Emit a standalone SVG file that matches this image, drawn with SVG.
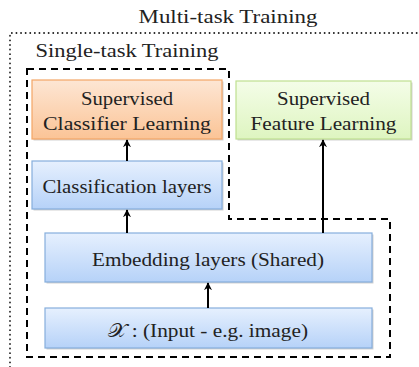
<svg xmlns="http://www.w3.org/2000/svg" width="419" height="367" viewBox="0 0 419 367" font-family="'Liberation Serif', 'DejaVu Serif', serif">
<defs>
<linearGradient id="gBlue" x1="0" y1="0" x2="0" y2="1"><stop offset="0" stop-color="#e6f0fe"/><stop offset="1" stop-color="#b6d2f8"/></linearGradient>
<linearGradient id="gOrange" x1="0" y1="0" x2="0" y2="1"><stop offset="0" stop-color="#fde6d4"/><stop offset="1" stop-color="#fbc496"/></linearGradient>
<linearGradient id="gGreen" x1="0" y1="0" x2="0" y2="1"><stop offset="0" stop-color="#f4fde8"/><stop offset="1" stop-color="#def5c0"/></linearGradient>
<marker id="arr" viewBox="0 0 10 10" refX="9" refY="5" markerWidth="4" markerHeight="4" orient="auto" markerUnits="strokeWidth">
<path d="M0,0 L10,5 L0,10 L3,5 Z" fill="#000"/>
</marker>
</defs>
<style>
text{fill:#222;font-size:18.5px}
.shadow{fill:#000;opacity:0.18}
.blue{fill:url(#gBlue);stroke:#86aedc;stroke-width:1.2}
.orange{fill:url(#gOrange);stroke:#f4a666;stroke-width:1.2}
.green{fill:url(#gGreen);stroke:#bfe090;stroke-width:1.2}
.conn{stroke:#000;stroke-width:2;fill:none;marker-end:url(#arr)}
</style>
<rect width="419" height="367" fill="#fff"/>
<g id="multi-task">
<path d="M10,367 L10,33 L419,33" fill="none" stroke="#222" stroke-width="1.8" stroke-dasharray="0.1 4.5" stroke-linecap="round"/>
<text x="228" y="23" text-anchor="middle" textLength="179" lengthAdjust="spacingAndGlyphs" font-size="19">Multi-task Training</text>
</g>
<g id="single-task">
<path d="M27,69 L229,69 L229,219 L390,219 L390,357 L27,357 Z" fill="none" stroke="#000" stroke-width="2" stroke-dasharray="7 5"/>
<text x="127" y="57" text-anchor="middle" textLength="183" lengthAdjust="spacingAndGlyphs" font-size="19">Single-task Training</text>
</g>
<g id="classifier-learning">
<rect class="shadow" x="33.5" y="81.5" width="190" height="59"/>
<rect class="orange" x="32" y="80" width="190" height="59"/>
<text x="127" y="105" text-anchor="middle" textLength="92" lengthAdjust="spacingAndGlyphs">Supervised</text>
<text x="127" y="130" text-anchor="middle" textLength="168" lengthAdjust="spacingAndGlyphs">Classifier Learning</text>
</g>
<g id="feature-learning">
<rect class="shadow" x="237.5" y="82.5" width="175" height="58"/>
<rect class="green" x="236" y="81" width="175" height="58"/>
<text x="323.5" y="105" text-anchor="middle" textLength="93" lengthAdjust="spacingAndGlyphs">Supervised</text>
<text x="323.5" y="130" text-anchor="middle" textLength="146" lengthAdjust="spacingAndGlyphs">Feature Learning</text>
</g>
<g id="classification-layers">
<rect class="shadow" x="33.5" y="162.5" width="190" height="48"/>
<rect class="blue" x="32" y="161" width="190" height="48"/>
<text x="127" y="193" text-anchor="middle" textLength="169" lengthAdjust="spacingAndGlyphs">Classification layers</text>
</g>
<g id="embedding-layers">
<rect class="shadow" x="46.5" y="234.5" width="327" height="49"/>
<rect class="blue" x="45" y="233" width="327" height="49"/>
<text x="208" y="266" text-anchor="middle" textLength="232" lengthAdjust="spacingAndGlyphs">Embedding layers (Shared)</text>
</g>
<g id="input">
<rect class="shadow" x="46.5" y="309.5" width="327" height="40"/>
<rect class="blue" x="45" y="308" width="327" height="40"/>
<text x="208" y="337" text-anchor="middle" textLength="200" lengthAdjust="spacingAndGlyphs">𝒳 : (Input - e.g. image)</text>
</g>
<g id="connectors">
<line class="conn" x1="127" y1="161" x2="127" y2="140"/>
<line class="conn" x1="127" y1="233" x2="127" y2="210"/>
<line class="conn" x1="323" y1="233" x2="323" y2="140"/>
<line class="conn" x1="208" y1="308" x2="208" y2="283"/>
</g>
</svg>
